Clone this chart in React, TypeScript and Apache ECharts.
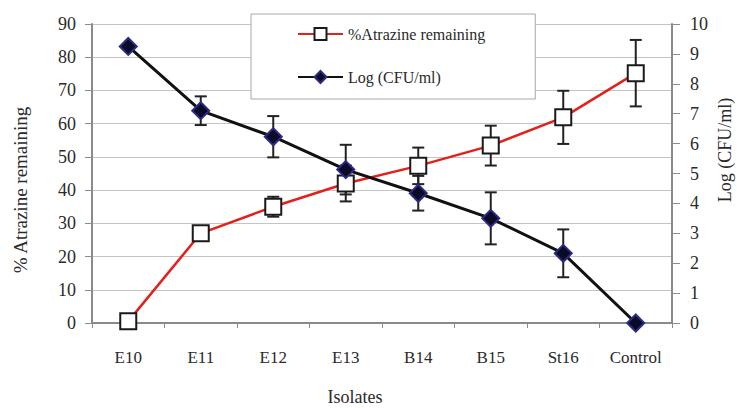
import React, { useEffect, useRef } from "react";
import * as echarts from "echarts";

const categories = ["E10", "E11", "E12", "E13", "B14", "B15", "St16", "Control"];
const atrazine = [0.5, 27, 35, 42, 47.3, 53.4, 61.9, 75.2];
const atrazineErr = [0, 0, 3, 5.4, 5.5, 6, 8, 10];
const logCfu = [9.25, 7.1, 6.23, 5.13, 4.34, 3.5, 2.33, 0];
const logCfuErr = [0, 0.48, 0.69, 0.83, 0.58, 0.87, 0.8, 0];
const leftTicks = { min: 0, max: 90, interval: 10 };
const rightTicks = { min: 0, max: 10, interval: 1 };

const FONT = "'Liberation Serif', 'Times New Roman', serif";
const TEXT = "#2a2a2a";

function errorBarSeries(name: string, values: number[], errs: number[], yAxisIndex: number) {
  const data = values.map((v, i) => [i, v - errs[i], v + errs[i]]);
  return {
    type: "custom",
    name: name + " err",
    yAxisIndex,
    z: 1,
    silent: true,
    data,
    renderItem: (params: any, api: any) => {
      const x = api.value(0);
      const lo = api.value(1);
      const hi = api.value(2);
      if (hi - lo <= 0) return null;
      const pLo = api.coord([x, lo]);
      const pHi = api.coord([x, hi]);
      const hw = 6;
      const style = { stroke: "#222", lineWidth: 2 };
      return {
        type: "group",
        children: [
          { type: "line", shape: { x1: pLo[0], y1: pLo[1], x2: pHi[0], y2: pHi[1] }, style },
          { type: "line", shape: { x1: pLo[0] - hw, y1: pLo[1], x2: pLo[0] + hw, y2: pLo[1] }, style },
          { type: "line", shape: { x1: pHi[0] - hw, y1: pHi[1], x2: pHi[0] + hw, y2: pHi[1] }, style },
        ],
      };
    },
  };
}

export default function App() {
  const ref = useRef<HTMLDivElement>(null);
  useEffect(() => {
    if (!ref.current) return;
    const chart = echarts.init(ref.current, undefined, { renderer: "svg" });
    chart.setOption({
      animation: false,
      backgroundColor: "#fff",
      textStyle: { fontFamily: FONT },
      grid: { left: 92, right: 65, top: 24, bottom: 85 },
      legend: {
        left: 251,
        top: 14,
        orient: "vertical",
        backgroundColor: "#fff",
        borderColor: "#a8a8a8",
        borderWidth: 1,
        borderRadius: 0,
        padding: [12, 50, 14, 46],
        itemGap: 27,
        itemWidth: 45,
        itemHeight: 15,
        textStyle: { fontFamily: FONT, fontSize: 16, color: TEXT },
        data: ["%Atrazine remaining", "Log (CFU/ml)"],
        z: 10,
      },
      xAxis: {
        type: "category",
        data: categories,
        boundaryGap: true,
        axisLine: { lineStyle: { color: "#8a8a8a", width: 2 } },
        axisTick: { show: true, length: 5, lineStyle: { color: "#8a8a8a", width: 1 } },
        axisLabel: { fontFamily: FONT, fontSize: 17, color: TEXT, margin: 26 },
        splitLine: { show: false },
      },
      yAxis: [
        {
          type: "value",
          min: leftTicks.min,
          max: leftTicks.max,
          interval: leftTicks.interval,
          axisLine: { show: true, lineStyle: { color: "#8a8a8a", width: 2 } },
          axisTick: { show: true, length: 7, lineStyle: { color: "#8a8a8a", width: 1 } },
          axisLabel: { fontFamily: FONT, fontSize: 18, color: TEXT, margin: 16 },
          splitLine: { show: true, lineStyle: { color: "#c4c4c4", width: 1.2 } },
        },
        {
          type: "value",
          min: rightTicks.min,
          max: rightTicks.max,
          interval: rightTicks.interval,
          position: "right",
          axisLine: { show: true, lineStyle: { color: "#8a8a8a", width: 2 } },
          axisTick: { show: true, length: 8, lineStyle: { color: "#8a8a8a", width: 1 } },
          axisLabel: { fontFamily: FONT, fontSize: 18, color: TEXT, margin: 18 },
          splitLine: { show: false },
        },
      ],
      graphic: [
        {
          type: "text",
          x: 20,
          y: 190,
          rotation: Math.PI / 2,
          style: {
            text: "% Atrazine remaining",
            fontFamily: FONT,
            fontSize: 19,
            fill: TEXT,
            align: "center",
            verticalAlign: "middle",
          },
        },
        {
          type: "text",
          x: 725,
          y: 150,
          rotation: Math.PI / 2,
          style: {
            text: "Log (CFU/ml)",
            fontFamily: FONT,
            fontSize: 18,
            fill: TEXT,
            align: "center",
            verticalAlign: "middle",
          },
        },
        {
          type: "text",
          x: 355,
          y: 397,
          style: {
            text: "Isolates",
            fontFamily: FONT,
            fontSize: 18,
            fill: TEXT,
            align: "center",
            verticalAlign: "middle",
          },
        },
      ],
      series: [
        errorBarSeries("%Atrazine remaining", atrazine, atrazineErr, 0),
        errorBarSeries("Log (CFU/ml)", logCfu, logCfuErr, 1),
        {
          name: "%Atrazine remaining",
          type: "line",
          yAxisIndex: 0,
          data: atrazine,
          z: 3,
          symbol: "rect",
          symbolSize: 16,
          showAllSymbol: true,
          lineStyle: { color: "#e3211b", width: 2.5 },
          itemStyle: { color: "#ffffff", borderColor: "#1a1a1a", borderWidth: 2 },
        },
        {
          name: "Log (CFU/ml)",
          type: "line",
          yAxisIndex: 1,
          data: logCfu,
          z: 4,
          symbol: "diamond",
          symbolSize: 17,
          showAllSymbol: true,
          lineStyle: { color: "#111111", width: 3 },
          itemStyle: { color: "#0c0b26", borderColor: "#2c2a86", borderWidth: 2 },
        },
      ],
    });
    return () => chart.dispose();
  }, []);
  return <div ref={ref} style={{ width: 737, height: 408, position: "absolute", left: 0, top: 0 }} />;
}
